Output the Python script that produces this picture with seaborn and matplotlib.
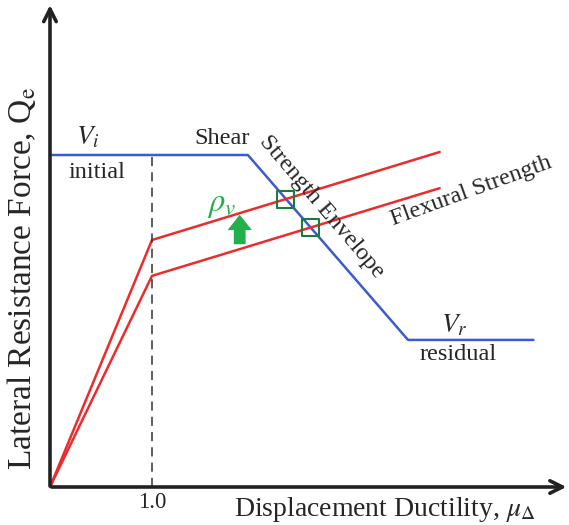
import numpy as np
import pandas as pd
import matplotlib
matplotlib.use("Agg")
import matplotlib.pyplot as plt
import seaborn as sns

# Schematic data (ductility, normalised strength)
env_x = [0.0, 1.94, 3.51, 4.74]
env_y = [1.0, 1.0, 0.443, 0.443]
flex_x = [0.0, 1.0, 3.82]
flex_hi = [0.0, 0.744, 1.009]
flex_lo = [0.0, 0.636, 0.900]
yield_mu = 1.0
x_tick_labels = ["1.0"]

sns.set_style("white")
plt.rcParams["font.family"] = ["Liberation Serif", "DejaVu Serif"]
plt.rcParams["mathtext.fontset"] = "stix"

fig = plt.figure(figsize=(5.69, 5.25), dpi=100)
ax = fig.add_axes([0, 0, 1, 1])
ax.set_xlim(-50 / 102, 519 / 102)
ax.set_ylim(-38 / 332, 487 / 332)
ax.axis("off")

def py(p):
    # pixel row -> data y (only used for placing labels)
    return (487 - p) / 332

blue = "#3a5ccc"
red = "#ee2b2b"

env = pd.DataFrame({"mu": env_x, "Q": env_y})
sns.lineplot(data=env, x="mu", y="Q", sort=False, color=blue, lw=1.8, ax=ax)
for fy in (flex_hi, flex_lo):
    df = pd.DataFrame({"mu": flex_x, "Q": fy})
    sns.lineplot(data=df, x="mu", y="Q", sort=False, color=red, lw=1.8, ax=ax)

# dashed yield line
ax.plot([yield_mu, yield_mu], [0, env_y[0]], color="#333333", lw=1.1, ls=(0, (6, 4)))

# intersections of flexural lines with the shear envelope
def intersect(fy):
    s1 = (env_y[2] - env_y[1]) / (env_x[2] - env_x[1])
    s2 = (fy[2] - fy[1]) / (flex_x[2] - flex_x[1])
    x = (fy[1] - s2 * flex_x[1] - env_y[1] + s1 * env_x[1]) / (s1 - s2)
    return x, fy[1] + s2 * (x - flex_x[1])

pts = pd.DataFrame([intersect(flex_hi), intersect(flex_lo)], columns=["mu", "Q"])
sns.scatterplot(data=pts, x="mu", y="Q", marker="s", s=150, facecolor="none",
                edgecolor="#1e7a3c", linewidth=1.5, ax=ax, zorder=5)

# axes arrows
arrow = dict(arrowstyle="->,head_length=0.9,head_width=0.45", lw=2.6, color="#222222")
ax.annotate("", xy=(5.09, 0), xytext=(-0.01, 0), arrowprops=arrow)
ax.annotate("", xy=(0, 1.46), xytext=(0, -0.005), arrowprops=arrow)

# green arrow for rho_v
ax.annotate("", xy=(1.86, py(212)), xytext=(1.86, py(247)),
            arrowprops=dict(arrowstyle="simple,head_length=1.1,head_width=1.75,tail_width=0.85",
                            mutation_scale=10, color="#22b04b", lw=0))

fs = 17.5
ax.text(0.37, py(138), r"$V_i$", fontsize=fs + 2, ha="center", va="center")
ax.text(0.46, py(173), "initial", fontsize=fs, ha="center", va="center")
ax.text(1.69, py(138), "Shear", fontsize=fs, ha="center", va="center")
ax.text(2.66, py(207), "Strength Envelope", fontsize=fs, ha="center", va="center",
        rotation=-49.5, rotation_mode="anchor")
ax.text(4.13, py(191), "Flexural Strength", fontsize=fs, ha="center", va="center",
        rotation=20, rotation_mode="anchor")
ax.text(3.96, py(326), r"$V_r$", fontsize=fs + 2, ha="center", va="center")
ax.text(4.0, py(354), "residual", fontsize=fs, ha="center", va="center")
ax.text(1.68, py(205), r"$\rho_v$", fontsize=fs + 6, color="#22b04b",
        ha="center", va="center")

ax.text(yield_mu, py(502), x_tick_labels[0], fontsize=fs - 1, ha="center", va="center")
ax.text((385 - 50) / 102, py(510), r"Displacement Ductility, $\mu_\Delta$", fontsize=20,
        ha="center", va="center")
ax.text(-28 / 102, py(278), r"Lateral Resistance Force, Q$_{\rm e}$", fontsize=24,
        ha="center", va="center", rotation=90)

fig.savefig("out.png", dpi=100)
